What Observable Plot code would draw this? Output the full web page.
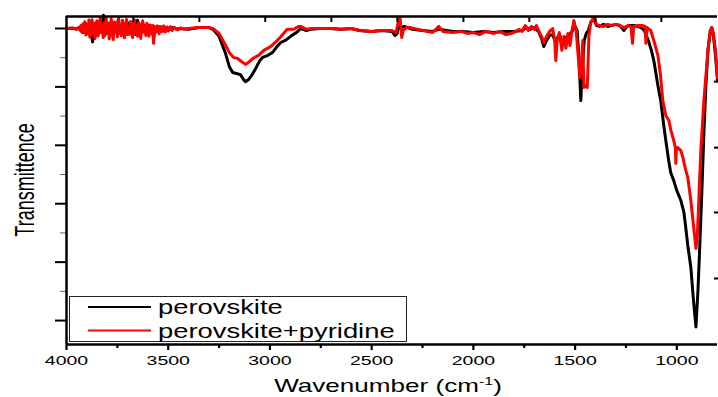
<!DOCTYPE html>
<html>
<head>
<meta charset="utf-8">
<script src="https://cdn.jsdelivr.net/npm/d3@7"></script>
<script src="https://cdn.jsdelivr.net/npm/@observablehq/plot@0.6"></script>
<style>
  html, body { margin: 0; padding: 0; background: white; }
  #chart { width: 718px; height: 397px; }
</style>
</head>
<body>
<div id="chart"></div>
<script>
// ---------- data ----------
const seriesNames = ["perovskite", "perovskite+pyridine"];
const seriesColors = ["#000000", "#ff0000"];

const blackWn = [4000,3970,3950,3940,3935,3930,3925,3920,3915,3910,3905,3900,3895,3890,3885,3880,3872,3865,3860,3855,3850,3845,3840,3835,3830,3825,3818,3812,3805,3800,3795,3790,3785,3780,3775,3770,3765,3760,3752,3744,3738,3730,3725,3720,3715,3710,3705,3700,3695,3690,3685,3680,3675,3670,3665,3660,3655,3651,3645,3640,3635,3630,3625,3620,3615,3610,3605,3600,3595,3590,3585,3580,3572,3565,3555,3545,3535,3525,3515,3505,3495,3480,3460,3440,3400,3350,3300,3280,3250,3220,3200,3183,3165,3145,3130,3120,3105,3090,3070,3050,3036,3010,2987,2965,2947,2925,2898,2870,2849,2820,2800,2750,2700,2650,2600,2560,2500,2450,2400,2385,2375,2365,2355,2340,2300,2250,2200,2170,2100,2050,2000,1950,1900,1850,1800,1760,1740,1720,1700,1680,1665,1654,1640,1625,1610,1600,1590,1575,1560,1545,1530,1515,1500,1490,1480,1472,1465,1455,1445,1435,1423,1408,1395,1380,1360,1340,1320,1300,1280,1260,1245,1230,1210,1190,1170,1160,1140,1125,1113,1093,1079,1064,1054,1040,1030,1015,1000,980,965,956,946,931,918,906,896,886,875,867,857,847,835,828,820,810,800];
const blackT = [100.0,100.1,99.8,100.2,100.3,99.2,101.0,98.6,100.8,98.9,101.6,99.0,101.2,98.0,100.9,99.4,95.4,101.5,98.8,101.9,99.0,101.1,98.4,100.7,99.3,101.8,104.5,97.6,101.4,98.7,100.6,97.8,101.7,99.1,101.2,98.2,100.4,98.9,101.1,103.4,98.3,100.9,98.6,101.5,99.2,98.0,101.3,99.6,101.9,98.5,100.7,98.9,101.6,99.0,100.5,97.9,101.3,102.8,99.1,101.0,98.4,100.6,99.2,101.2,98.7,100.3,99.0,100.9,98.6,100.4,99.3,100.8,96.6,100.5,99.3,100.6,99.4,100.5,99.5,100.4,99.6,100.3,99.8,100.0,99.7,100.3,100.3,99.7,97.3,91.8,87.0,84.9,84.6,84.2,82.5,81.8,82.5,83.9,86.3,89.0,90.1,90.8,91.8,93.8,95.2,95.9,97.3,98.6,100.0,99.3,99.7,100.0,100.0,99.7,100.0,99.3,99.0,99.3,99.0,97.6,98.3,101.0,100.3,100.7,99.7,99.3,99.0,99.7,99.0,99.0,98.6,99.0,98.6,99.0,99.0,99.3,100.3,99.7,100.3,99.0,96.6,93.8,95.9,97.6,97.9,95.9,96.6,97.6,94.5,96.9,97.6,99.0,100.7,99.3,89.0,75.3,85.6,95.9,98.3,99.3,102.1,103.4,101.0,100.7,101.4,100.7,101.0,101.4,101.0,99.3,100.7,101.0,101.0,100.7,100.0,99.3,95.9,92.5,89.0,80.5,75.3,66.8,61.6,54.8,50.7,47.9,44.5,41.1,37.0,31.8,25.7,18.2,6.8,-2.2,10.3,27.4,47.9,64.0,80.5,92.5,99.3,100.3,97.6,90.8,82.2];

const redWn = [4000,3970,3950,3940,3935,3930,3925,3920,3915,3910,3905,3900,3895,3890,3885,3880,3875,3870,3865,3860,3855,3850,3845,3840,3835,3830,3825,3820,3815,3810,3805,3800,3795,3790,3785,3780,3775,3770,3765,3760,3755,3750,3745,3740,3735,3730,3725,3720,3715,3710,3705,3700,3695,3690,3685,3680,3675,3670,3665,3660,3655,3650,3645,3640,3635,3630,3625,3620,3615,3610,3605,3600,3595,3590,3585,3580,3575,3572,3567,3560,3553,3545,3538,3530,3522,3515,3507,3500,3490,3480,3470,3455,3440,3420,3400,3350,3300,3280,3250,3220,3200,3180,3159,3140,3120,3105,3085,3056,3030,2997,2970,2950,2933,2915,2900,2883,2860,2849,2820,2800,2750,2700,2650,2600,2560,2500,2450,2400,2380,2367,2360,2352,2345,2330,2308,2270,2230,2200,2170,2150,2100,2060,2030,2000,1970,1940,1900,1870,1840,1800,1775,1760,1745,1730,1715,1700,1690,1675,1665,1654,1640,1625,1610,1600,1595,1588,1578,1565,1555,1545,1535,1525,1515,1506,1495,1485,1477,1470,1462,1457,1450,1440,1432,1423,1408,1395,1380,1360,1340,1320,1300,1280,1260,1240,1225,1218,1212,1190,1170,1156,1152,1146,1128,1110,1093,1080,1069,1054,1039,1029,1015,1007,1005,1002,995,980,970,956,946,931,918,906,899,892,882,867,857,847,835,828,820,810,800];
const redT = [100.0,100.2,99.7,100.4,99.6,100.9,98.8,101.5,99.0,102.3,97.8,101.0,98.2,102.9,97.0,100.4,103.0,98.1,101.8,96.5,100.2,102.6,97.4,99.9,103.4,98.6,101.2,96.9,102.0,97.8,103.6,99.1,101.9,96.4,100.6,103.3,98.0,96.2,102.2,99.4,101.6,97.1,103.2,98.4,100.8,97.5,102.8,99.7,96.8,101.4,103.1,97.9,100.5,98.0,102.4,99.2,96.9,101.7,102.9,98.3,100.9,97.3,102.0,99.5,96.6,101.3,102.6,98.7,100.4,97.6,101.8,99.0,97.4,101.2,100.0,98.1,101.0,94.9,100.6,98.8,100.9,98.2,100.7,98.9,100.9,98.8,100.5,99.1,100.6,99.3,100.4,99.5,100.2,99.7,100.0,100.3,100.3,100.0,98.3,94.5,91.8,90.1,89.7,88.7,87.7,88.4,89.7,90.8,92.5,93.8,95.5,96.9,98.3,99.7,99.7,99.7,100.7,100.7,99.7,100.0,100.0,100.0,99.7,100.0,99.3,99.0,99.3,99.3,98.6,103.1,103.4,96.9,99.3,100.3,100.3,99.7,99.0,98.6,100.7,99.0,98.6,99.0,98.3,98.6,97.9,99.0,98.3,99.0,97.9,98.6,99.7,99.0,101.0,99.3,100.7,99.7,101.0,98.6,97.3,95.2,97.3,99.0,100.0,95.9,89.0,95.9,98.6,92.5,97.3,93.2,98.3,94.2,99.3,102.7,99.3,90.8,83.2,85.6,95.9,79.8,80.5,79.8,97.6,102.1,103.8,101.4,101.0,100.7,101.4,101.0,101.4,101.0,100.3,101.0,100.7,94.9,100.7,101.0,101.0,100.7,94.9,100.3,99.3,95.2,90.8,83.9,75.3,70.2,68.5,65.1,61.6,59.2,53.8,58.9,59.2,58.2,55.8,51.4,49.0,41.1,32.5,24.7,29.1,41.1,58.2,75.3,83.9,92.5,99.3,100.3,98.3,92.5,83.2];

// axes ticks
const xDomain = [4000, 800];
const yDomain = [-8.2, 104.1];
const xMajorTicks = [4000, 3500, 3000, 2500, 2000, 1500, 1000];
const xMinorTicks = [3750, 3250, 2750, 2250, 1750, 1250];
const xTopTicks = [3672, 3347, 3023, 2698, 2374, 2049, 1725, 1400, 1076];
const yMajorTicks = [0, 20, 40, 60, 80, 100];
const yMinorTicks = [10, 30, 50, 70, 90];
const yRightTicks = [14.4, 37.0, 59.2, 81.8];

const xLabel = "Wavenumber (cm";
const xLabelSup = "-1";
const yLabel = "Transmittence";

// ---------- build ----------
const blackData = blackWn.map((w, i) => ({wn: w, t: blackT[i], s: seriesNames[0]}));
const redData = redWn.map((w, i) => ({wn: w, t: redT[i], s: seriesNames[1]}));
const blank = () => "";

const chart = Plot.plot({
  width: 718,
  height: 397,
  marginLeft: 66,
  marginRight: 1,
  marginTop: 16,
  marginBottom: 53,
  x: {domain: xDomain},
  y: {domain: yDomain},
  style: {fontFamily: "'Liberation Sans', Arial, sans-serif", color: "black", background: "white", overflow: "visible"},
  marks: [
    Plot.line(blackData, {x: "wn", y: "t", stroke: seriesColors[0], strokeWidth: 3, strokeLinejoin: "round"}),
    Plot.line(redData, {x: "wn", y: "t", stroke: seriesColors[1], strokeWidth: 3, strokeLinejoin: "round"}),
    Plot.axisY({anchor: "left", ticks: yMajorTicks, tickSize: 11, strokeWidth: 2, tickFormat: blank, label: null}),
    Plot.axisY({anchor: "left", ticks: yMinorTicks, tickSize: 6, strokeWidth: 1, strokeOpacity: 0.6, tickFormat: blank, label: null}),
    Plot.axisY({anchor: "right", ticks: yRightTicks, tickSize: -4, strokeWidth: 2, tickFormat: blank, label: null}),
    Plot.axisX({anchor: "bottom", ticks: xMajorTicks, tickSize: 6, tickPadding: 5, strokeWidth: 2.2, fontSize: 13, tickFormat: d => String(d), label: null}),
    Plot.axisX({anchor: "bottom", ticks: xMinorTicks, tickSize: 4, strokeWidth: 2.2, tickFormat: blank, label: null}),
    Plot.axisX({anchor: "top", ticks: xTopTicks, tickSize: -5, strokeWidth: 2, tickFormat: blank, label: null}),
    Plot.ruleX([xDomain[0]], {stroke: "black", strokeWidth: 2.5}),
    Plot.ruleY([yDomain[0]], {stroke: "black", strokeWidth: 2.5}),
    Plot.ruleY([yDomain[1]], {stroke: "black", strokeWidth: 2.5})
  ]
});

document.getElementById("chart").appendChild(chart);

// stretch x tick labels horizontally like the original
chart.querySelectorAll('g[aria-label="x-axis tick label"] text').forEach(t => {
  const tr = t.getAttribute("transform") || "";
  t.setAttribute("transform", tr + " scale(1.5,1)");
});

const svg = d3.select(chart);
const font = "'Liberation Sans', Arial, sans-serif";

// legend
const lg = svg.append("g").attr("font-family", font).attr("text-anchor", "start");
lg.append("rect").attr("x", 69.5).attr("y", 296.5).attr("width", 337).attr("height", 45)
  .attr("fill", "white").attr("stroke", "#222").attr("stroke-width", 1);
seriesNames.forEach((name, i) => {
  const cy = 307 + i * 23.5;
  lg.append("line").attr("x1", 88).attr("x2", 151).attr("y1", cy).attr("y2", cy)
    .attr("stroke", seriesColors[i]).attr("stroke-width", 2.2);
  lg.append("text").attr("transform", `translate(158,${cy + 7}) scale(1.37,1)`)
    .attr("text-anchor", "start").attr("font-size", 20).attr("fill", "black").text(name);
});

// x label
const xl = svg.append("text").attr("font-family", font).attr("font-size", 18)
  .attr("text-anchor", "middle").attr("fill", "black")
  .attr("transform", "translate(388,392) scale(1.45,1)");
xl.append("tspan").text(xLabel);
xl.append("tspan").attr("font-size", 11).attr("dy", -7).text(xLabelSup);
xl.append("tspan").attr("dy", 7).text(")");

// y label (glyphs stretched across, like the original)
svg.append("text").attr("font-family", font).attr("font-size", 18)
  .attr("text-anchor", "middle").attr("fill", "black")
  .attr("transform", "translate(33.5,180) rotate(-90) scale(1,1.55)").text(yLabel);
</script>
</body>
</html>
